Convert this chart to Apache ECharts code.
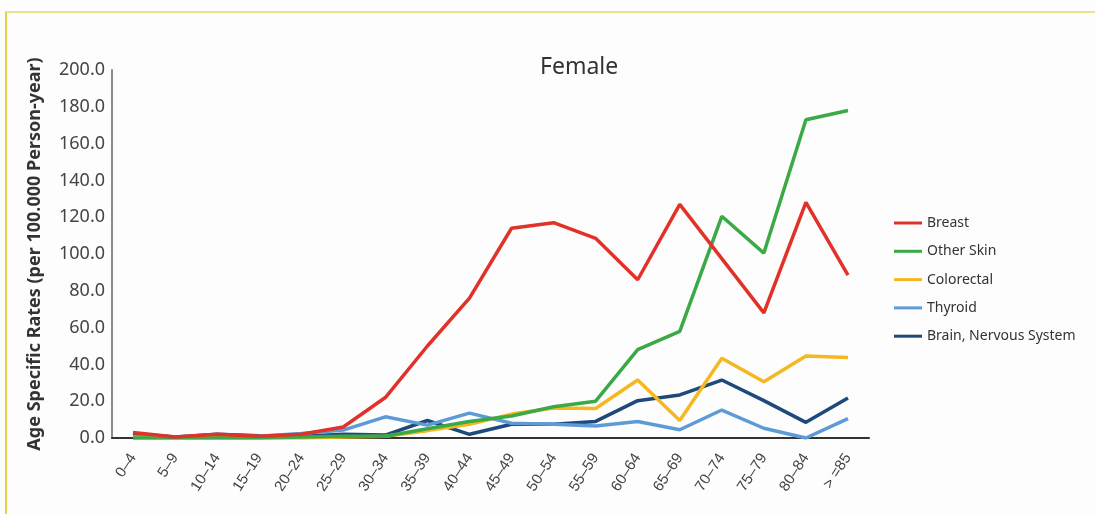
<!DOCTYPE html>
<html>
<head>
<meta charset="utf-8">
<script src="https://cdn.jsdelivr.net/npm/echarts@6/dist/echarts.min.js"></script>
<style>
  html, body { margin: 0; padding: 0; background: #fdfdfd; }
  #frame { position: absolute; left: 5px; top: 11px; width: 1090px; height: 503px;
           border-top: 2px solid #ebe28a; border-left: 2px solid #e6d43c; box-sizing: border-box; }
  #chart { position: absolute; left: 0; top: 0; width: 1095px; height: 514px; }
</style>
</head>
<body>
<div id="frame"></div>
<div id="chart"></div>
<script>
// age groups
var ageGroups = ['0–4', '5–9', '10–14', '15–19', '20–24', '25–29', '30–34', '35–39', '40–44',
  '45–49', '50–54', '55–59', '60–64', '65–69', '70–74', '75–79', '80–84', '> =85'];

// rates per 100.000 person-year
var breast    = [3, 0.5, 2, 1, 2, 6, 22, 50, 76, 114, 117, 108.5, 86, 127, 97.5, 68, 128, 88.5];
var otherSkin = [0, 0, 0, 0, 0.5, 1, 1, 5, 9, 12, 17, 20, 48, 58, 120.5, 100.5, 173, 178];
var colorectal = [0, 0, 0, 0, 0, 0.5, 1, 4, 7.5, 13, 16.3, 16, 31.5, 9.5, 43.3, 30.6, 44.6, 43.7];
var thyroid   = [0.5, 0.5, 1, 1, 2.5, 4.3, 11.5, 7, 13.5, 8, 7.5, 6.5, 9, 4.5, 15.2, 5.3, 0, 10.5];
var brain     = [2.5, 0.5, 2, 1.2, 1, 2, 1.6, 9.5, 2, 7.5, 7.5, 9, 20.3, 23.4, 31.5, 20.3, 8.5, 21.8];

var seriesNames = ['Breast', 'Other Skin', 'Colorectal', 'Thyroid', 'Brain, Nervous System'];
var seriesColors = ['#e1322a', '#3aa946', '#f5b820', '#5e9bd6', '#1e4a7b'];
var seriesData = [breast, otherSkin, colorectal, thyroid, brain];

var myChart = echarts.init(document.getElementById('chart'));

var series = [];
for (var i = 0; i < seriesNames.length; i++) {
  series.push({
    name: seriesNames[i],
    type: 'line',
    data: seriesData[i],
    symbol: 'none',
    lineStyle: { width: 3.5, color: seriesColors[i] },
    itemStyle: { color: seriesColors[i] },
    animation: false
  });
}
// draw the brain line above the thyroid one, like the picture
series.reverse();

var option = {
  backgroundColor: 'transparent',
  title: {
    text: 'Female',
    left: 535,
    top: 51,
    textStyle: { fontFamily: 'Noto Sans', fontSize: 23, fontWeight: 'normal', color: '#333' }
  },
  legend: {
    orient: 'vertical',
    left: 889,
    top: 211,
    icon: 'rect',
    itemWidth: 28,
    itemHeight: 3,
    itemGap: 14.3,
    data: seriesNames,
    textStyle: { fontFamily: 'Noto Sans', fontSize: 14, color: '#333' }
  },
  grid: { left: 112, right: 226, top: 70, bottom: 76, containLabel: false },
  xAxis: {
    type: 'category',
    data: ageGroups,
    boundaryGap: true,
    axisLine: { lineStyle: { color: '#333', width: 2 } },
    axisTick: { show: false },
    axisLabel: {
      rotate: 57,
      interval: 0,
      margin: 17,
      fontFamily: 'Liberation Sans',
      fontSize: 15,
      color: '#444'
    }
  },
  yAxis: {
    type: 'value',
    min: 0,
    max: 200,
    interval: 20,
    name: 'Age Specific Rates (per 100.000 Person-year)',
    nameLocation: 'middle',
    nameGap: 68,
    nameTextStyle: { fontFamily: 'Noto Sans', fontSize: 18, fontWeight: 'bold', color: '#333' },
    axisLine: { show: true, lineStyle: { color: '#8a8a8a', width: 2 } },
    axisTick: { show: false },
    splitLine: { show: false },
    axisLabel: {
      margin: 7,
      fontFamily: 'Noto Sans',
      fontSize: 18,
      color: '#444',
      formatter: function (v) { return v.toFixed(1); }
    }
  },
  series: series
};

myChart.setOption(option);
</script>
</body>
</html>
